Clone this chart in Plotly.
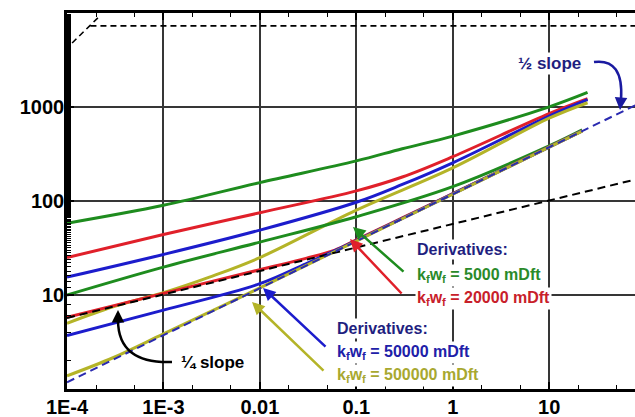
import plotly.graph_objects as go

# ---------------- data ----------------
x_pres = [1e-4, 1e-3, 1e-2, 1e-1, 0.3, 1, 10, 25]
green_pres = [58, 90, 157, 267, 360, 490, 1005, 1430]
red_pres = [25, 44, 75, 128, 180, 296, 850, 1225]
blue_pres = [15.5, 27, 49, 97, 150, 255, 800, 1195]

x_yel_pres = [1e-4, 3e-4, 1e-3, 3e-3, 1e-2, 1e-1, 1, 10, 25]
yel_pres = [5.0, 7.5, 10.6, 15.5, 25, 80, 225, 760, 1110]

x_green_der = [1e-4, 1e-3, 1e-2, 1e-1, 1, 10, 22]
green_der = [10, 19.8, 36.5, 68, 142, 385, 570]

x_red_der = [1e-4, 1e-3, 1e-2, 3e-2, 6e-2, 1e-1, 0.3, 1, 3, 10, 22]
red_der = [5.8, 10.4, 18.6, 24.5, 30, 38.5, 66, 120, 206, 376, 556]

x_blue_der = [1e-4, 1e-3, 1e-2, 3e-2, 1e-1, 1, 10, 22]
blue_der = [3.7, 6.9, 13.2, 21.5, 38, 119, 375, 556]

x_yel_der = [1e-4, 3e-4, 1e-3, 1e-2, 1e-1, 1, 10, 22]
yel_der = [1.38, 2.15, 3.85, 11.9, 37.5, 118, 374, 555]

x_half = [1e-4, 100]
half_slope = [1.18, 1180]
x_quarter = [1e-4, 100]
quarter_slope = [5.7, 180]
x_unit = [1.13e-4, 2.2e-4]
unit_top = [4800, 9350]
x_flat = [1.75e-4, 100]
flat_top = [7300, 7300]

x_tickvals = [1e-4, 1e-3, 1e-2, 1e-1, 1, 10, 100]
x_ticktext = ["1E-4", "1E-3", "0.01", "0.1", "1", "10", "100"]
y_tickvals = [10, 100, 1000]
y_ticktext = ["10", "100", "1000"]

# ---------------- styling ----------------
GREEN = "#1e8c1e"
RED = "#e0202a"
BLUE = "#1c1ccc"
YEL = "#b4b428"
NAVY = "#1f1f80"
FONT = "Liberation Sans, Arial, sans-serif"

W_FIG, H_FIG = 635, 417
L, T, R, B = 67, 13, 0, 28
PW, PH = W_FIG - L - R, H_FIG - T - B


def px(X):
    return (X - L) / PW


def py(Y):
    return (T + PH - Y) / PH


fig = go.Figure()


def add_line(x, y, color, width=3, dash=None, shape="spline"):
    fig.add_trace(go.Scatter(
        x=x, y=y, mode="lines",
        line=dict(color=color, width=width, dash=dash, shape=shape),
        showlegend=False, hoverinfo="skip"))


add_line(x_pres, green_pres, GREEN)
add_line(x_pres, red_pres, RED)
add_line(x_pres, blue_pres, BLUE)
add_line(x_yel_pres, yel_pres, YEL)
add_line(x_green_der, green_der, GREEN)
add_line(x_red_der, red_der, RED)
add_line(x_blue_der, blue_der, BLUE)
add_line(x_yel_der, yel_der, YEL)

add_line(x_quarter, quarter_slope, "black", 2, "8px,5px", "linear")
add_line(x_half, half_slope, "#2a2ab0", 2, "8px,5px", "linear")
add_line(x_unit, unit_top, "black", 1.6, "6px,4px", "linear")
add_line(x_flat, flat_top, "black", 1.6, "6px,4px", "linear")

axis_common = dict(
    type="log", showline=True, linecolor="black", linewidth=2.5,
    ticks="inside", ticklen=7, tickwidth=1.5, tickcolor="black",
    showgrid=True, gridcolor="#363636", gridwidth=1.5,
    tickfont=dict(family=FONT, size=20, color="black", weight="bold"),
    minor=dict(ticks="inside", ticklen=4, tickwidth=1, tickcolor="black",
               showgrid=False),
    zeroline=False,
)

fig.update_layout(
    width=W_FIG, height=H_FIG,
    margin=dict(l=L, r=R, t=T, b=B),
    paper_bgcolor="white", plot_bgcolor="white",
    xaxis=dict(axis_common, range=[-4, 1.89], tickvals=x_tickvals,
               ticktext=x_ticktext, mirror="ticks", ticklabelstandoff=-2),
    yaxis=dict(axis_common, range=[0, 4], tickvals=y_tickvals,
               ticktext=y_ticktext, ticklabelstandoff=-4),
    showlegend=False,
)

anns = []


def text_ann(X, Y, txt, color, anchor="left", size=16):
    anns.append(dict(
        xref="paper", yref="paper", x=px(X), y=py(Y), text="<b>" + txt + "</b>",
        showarrow=False, xanchor=anchor, yanchor="middle",
        font=dict(family=FONT, size=size, color=color),
        bgcolor="white", borderpad=1))


def arrow_ann(hx, hy, tx, ty, color, width=2.5, size=1.0):
    anns.append(dict(
        xref="paper", yref="paper", x=px(hx), y=py(hy), text="",
        showarrow=True, ax=tx - hx, ay=ty - hy, arrowhead=2,
        arrowsize=size, arrowwidth=width, arrowcolor=color))


# upper derivative legend
text_ann(415, 250, "Derivatives:", NAVY)
text_ann(415, 275, "k<sub>f</sub>w<sub>f</sub> = 5000 mDft", "#2a8a2a")
text_ann(415, 298, "k<sub>f</sub>w<sub>f</sub> = 20000 mDft", "#c8202a")
# lower derivative legend
text_ann(335, 328, "Derivatives:", NAVY)
text_ann(335, 352, "k<sub>f</sub>w<sub>f</sub> = 50000 mDft", "#2020a8")
text_ann(335, 375, "k<sub>f</sub>w<sub>f</sub> = 500000 mDft", "#a8a830")
# slope labels
text_ann(549, 63, "½ slope", NAVY, anchor="center", size=17)
text_ann(212, 362, "¼ slope", "black", anchor="center", size=17)

# straight arrows
arrow_ann(353, 227, 405, 273, GREEN)
arrow_ann(350, 239, 403, 295, RED)
arrow_ann(263, 288, 327, 348, BLUE)
arrow_ann(252, 302, 325, 372, YEL)

# curved arrow heads
arrow_ann(620, 110, 621, 98, "#1a1aa0", width=2.5)
arrow_ann(118, 310, 118, 322, "black", width=2.5)

fig.update_layout(annotations=anns)

# curved arrow bodies
fig.add_shape(type="path", xref="paper", yref="paper",
              path=f"M {px(594)},{py(62)} Q {px(624)},{py(58)} {px(621)},{py(100)}",
              line=dict(color="#1a1aa0", width=2.5))
fig.add_shape(type="path", xref="paper", yref="paper",
              path=f"M {px(172)},{py(362)} Q {px(118)},{py(364)} {px(118)},{py(320)}",
              line=dict(color="black", width=2.5))

fig.write_html("out.html")
